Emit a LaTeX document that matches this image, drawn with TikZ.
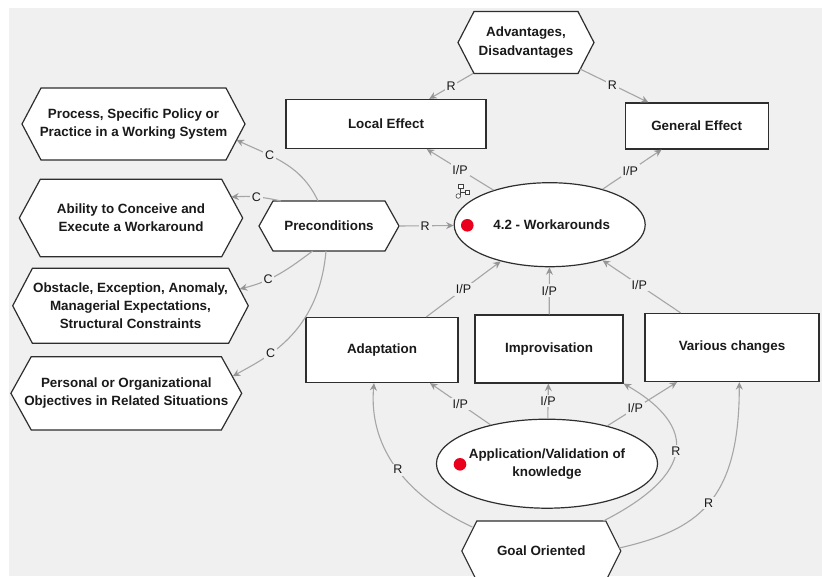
\documentclass[tikz,border=0pt]{standalone}
\usepackage{fontspec}
\setmainfont{Liberation Sans}
\usetikzlibrary{arrows.meta,calc,shapes.geometric}

\definecolor{bg}{HTML}{F0F0F0}
\definecolor{edgegray}{HTML}{A6A6A6}
\definecolor{frame}{HTML}{2E2E2E}
\definecolor{dotred}{HTML}{E8001C}
\definecolor{ink}{HTML}{1A1A1A}

\newcommand\boxfont{\bfseries\fontsize{13.4}{18}\selectfont}
\newcommand\tagfont{\fontsize{12.5}{14}\selectfont}

% hexagon with pointed left/right ends: name, cx, cy, half width, half height, inset, text
\newcommand\hexnode[7]{%
  \filldraw[hexframe] ({#2-#4},{#3}) -- ({#2-#4+#6},{#3+#5}) -- ({#2+#4-#6},{#3+#5})
    -- ({#2+#4},{#3}) -- ({#2+#4-#6},{#3-#5}) -- ({#2-#4+#6},{#3-#5}) -- cycle;
  \node[hextext] (#1) at (#2,#3) {#7};}

\tikzset{
  hexframe/.style={draw=frame, line width=1.2pt, fill=white, line join=miter},
  hextext/.style={inner sep=0pt, align=center, font=\boxfont, text=ink},
  rectbox/.style={rectangle, draw=frame, line width=1.2pt, fill=white, inner sep=0pt,
    align=center, font=\boxfont, text=ink},
  ovalbox/.style={ellipse, draw=frame, line width=1.2pt, fill=white, inner sep=0pt,
    align=center, font=\boxfont, text=ink},
  reddot/.style={circle, fill=dotred, inner sep=0pt, minimum size=12.6pt},
  conn/.style={draw=edgegray, line width=1.1pt,
    -{Stealth[length=7.5pt,width=7pt,inset=2.5pt,color=edgegray!90!black]}},
  lbl/.style={fill=bg, inner sep=1.8pt, font=\tagfont, text=ink},
  icon/.style={draw=black!75, line width=0.6pt, fill=white}
}

\begin{document}
\begin{tikzpicture}[x=1pt,y=1pt]
  \useasboundingbox (0,0) rectangle (822,-576);
  \clip (0,0) rectangle (822,-576);
  \fill[white] (0,0) rectangle (822,-576);
  \fill[bg] (9,-8) rectangle (822,-576);

  % hexagonal nodes
  \hexnode{adv}{526}{-42.5}{68}{31}{16}{Advantages,\\[1pt]Disadvantages}
  \hexnode{pre}{329}{-226}{70}{25}{14}{Preconditions}
  \hexnode{proc}{133.5}{-124}{111.5}{36}{19}{Process, Specific Policy or\\Practice in a Working System}
  \hexnode{abil}{131}{-218}{111.7}{38.7}{21}{Ability to Conceive and\\Execute a Workaround}
  \hexnode{obst}{130.5}{-305.8}{117.8}{37.5}{19.7}{Obstacle, Exception, Anomaly,\\Managerial Expectations,\\Structural Constraints}
  \hexnode{pers}{126.3}{-393.3}{115.4}{36.6}{20.3}{Personal or Organizational\\Objectives in Related Situations}
  \hexnode{goal}{541.3}{-551}{79.5}{30}{15}{Goal Oriented}

  % rectangular nodes
  \node[rectbox, minimum width=200pt, minimum height=49pt] (loc) at (386,-124) {Local Effect};
  \node[rectbox, minimum width=143pt, minimum height=46pt] (gen) at (696.7,-126) {General Effect};
  \node[rectbox, minimum width=152pt, minimum height=65pt] (adapt) at (382,-350) {Adaptation};
  \node[rectbox, minimum width=148pt, minimum height=68pt] (imp) at (549,-349) {Improvisation};
  \node[rectbox, minimum width=174pt, minimum height=68pt] (var) at (732,-347.5) {Various changes};

  % elliptic nodes
  \node[ovalbox, minimum width=191pt, minimum height=84pt] (wk) at (549.7,-224.7) {\hspace*{4pt}4.2 - Workarounds};
  \node[ovalbox, minimum width=199pt, minimum height=89pt] (app) at (547,-463.7) {Application/Validation of\\knowledge};
  \node[reddot] (wkdot) at (467.3,-225.3) {};
  \node[reddot] (appdot) at (460,-464.3) {};

  % small hierarchy glyph beside the main ellipse
  \draw[black!75, line width=0.6pt] (460.5,-188) -- (460.5,-194.5) (460.5,-192.5) -- (465,-192.5);
  \draw[icon] (458,-184) rectangle (463,-188.3);
  \draw[icon] (465,-190.5) rectangle (469.5,-194.5);
  \draw[icon] (458.3,-196) circle (2.3pt);

  % effects
  \draw[conn] ($(adv)+(-53,-31)$) -- node[lbl]{R} (loc);
  \draw[conn] ($(adv)+(54.3,-26.6)$) -- node[lbl,pos=0.47]{R} (gen);
  \draw[conn] (wk) -- node[lbl]{I/P} (loc);
  \draw[conn] (wk) -- node[lbl,pos=0.47]{I/P} (gen);

  % preconditions
  \draw[conn] ($(pre)+(70,0)$) -- node[lbl,pos=0.48]{R} (wk);
  \draw[conn] ($(pre)+(-11,25)$) to[out=115,in=-25] node[lbl,pos=0.67]{C} ($(proc)+(103,-16)$);
  \draw[conn] ($(pre)+(-48,25)$) to[bend right=8] node[lbl]{C} ($(abil)+(100.3,21)$);
  \draw[conn] ($(pre)+(-16.4,-25)$) to[out=217,in=14] node[lbl,pos=0.65]{C} ($(obst)+(109.3,16.8)$);
  \draw[conn] ($(pre)+(-3,-25)$) to[out=-95,in=30,out distance=85pt,in distance=35pt]
    node[lbl,pos=0.65]{C} ($(pers)+(106.5,17)$);

  % contributions to the workarounds
  \draw[conn] (adapt) -- node[lbl]{I/P} (wk);
  \draw[conn] (imp) -- node[lbl]{I/P} (wk);
  \draw[conn] (var) -- node[lbl,pos=0.53]{I/P} (wk);

  % application of knowledge
  \draw[conn] (app) -- node[lbl]{I/P} (adapt);
  \draw[conn] (app) -- node[lbl]{I/P} (imp);
  \draw[conn] (app) -- node[lbl,pos=0.4]{I/P} (var);

  % goal orientation
  \draw[conn] ($(goal)+(-69,24)$) to[out=155,in=-95] node[lbl]{R} ($(adapt.south)+(-8,0)$);
  \draw[conn] ($(goal)+(62,30)$) to[out=27,in=-30,out distance=103pt,in distance=86pt]
    node[lbl]{R} (imp.south east);
  \draw[conn] ($(goal)+(78,3)$) to[out=13,in=-90,out distance=80pt,in distance=120pt]
    node[lbl]{R} ($(var.south)+(7.3,0)$);
\end{tikzpicture}
\end{document}
